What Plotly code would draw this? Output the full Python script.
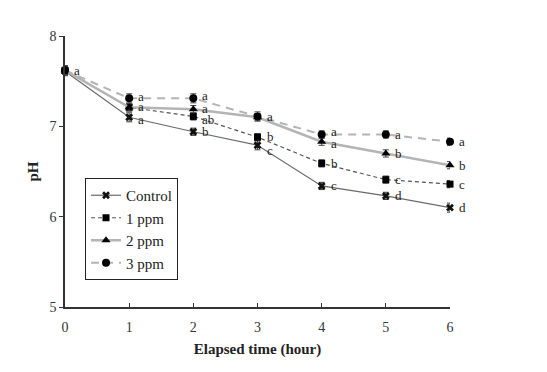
import plotly.graph_objects as go

hours = [0, 1, 2, 3, 4, 5, 6]
series_names = ["Control", "1 ppm", "2 ppm", "3 ppm"]
ph_control = [7.61, 7.10, 6.94, 6.79, 6.34, 6.23, 6.10]
ph_1ppm = [7.62, 7.21, 7.11, 6.88, 6.59, 6.41, 6.36]
ph_2ppm = [7.62, 7.21, 7.19, 7.10, 6.83, 6.70, 6.57]
ph_3ppm = [7.62, 7.31, 7.31, 7.11, 6.91, 6.91, 6.83]
err_control = [0.05, 0.05, 0.04, 0.05, 0.04, 0.04, 0.05]
err_1ppm = [0.05, 0.04, 0.04, 0.04, 0.04, 0.04, 0.04]
err_2ppm = [0.05, 0.04, 0.04, 0.04, 0.04, 0.04, 0.04]
err_3ppm = [0.05, 0.05, 0.05, 0.05, 0.04, 0.04, 0.04]
letters_control = ["", "a", "b", "c", "c", "d", "d"]
letters_1ppm = ["a", "", "ab", "b", "b", "c", "c"]
letters_2ppm = ["", "a", "a", "", "a", "b", "b"]
letters_3ppm = ["", "a", "a", "a", "a", "a", "a"]

FONT = "Liberation Serif"

styles = [
    dict(line=dict(color="#6a6a6a", width=1.2), marker=dict(symbol="x", size=7, color="#111")),
    dict(line=dict(color="#555555", width=1.2, dash="4px,3px"), marker=dict(symbol="square", size=7, color="#000")),
    dict(line=dict(color="#b4b4b4", width=2.5), marker=dict(symbol="triangle-up", size=8, color="#000")),
    dict(line=dict(color="#b4b4b4", width=2, dash="8px,6px"), marker=dict(symbol="circle", size=8, color="#000")),
]
# small vertical nudges (px) for letters that would collide: (series index, hour) -> shift
letter_nudge = {(0, 1): -2, (2, 1): 1, (3, 1): 2, (1, 2): -3, (2, 2): 1, (3, 2): 3,
                (0, 3): -5, (1, 3): 1, (3, 4): 3, (2, 4): -2}

values = [ph_control, ph_1ppm, ph_2ppm, ph_3ppm]
errs = [err_control, err_1ppm, err_2ppm, err_3ppm]
letters = [letters_control, letters_1ppm, letters_2ppm, letters_3ppm]

fig = go.Figure()
for name, ys, er, st in zip(series_names, values, errs, styles):
    fig.add_trace(go.Scatter(
        x=hours, y=ys, name=name, mode="lines+markers",
        line=st["line"], marker=st["marker"],
        error_y=dict(type="data", array=er, color="#444", thickness=1, width=3),
        cliponaxis=False,
    ))

annotations = []
for si, (ys, lt) in enumerate(zip(values, letters)):
    for xh, yv, t in zip(hours, ys, lt):
        if t:
            annotations.append(dict(
                x=xh, y=yv, text=t, showarrow=False, xanchor="left", yanchor="middle",
                xshift=7, yshift=letter_nudge.get((si, xh), 0),
                font=dict(family=FONT, size=13, color="#222"),
            ))

fig.update_layout(
    width=539, height=364,
    margin=dict(l=57, r=97, t=28, b=65),
    paper_bgcolor="white", plot_bgcolor="white",
    font=dict(family=FONT, size=13, color="#222"),
    showlegend=True,
    legend=dict(
        x=0.052, y=0.476, xanchor="left", yanchor="top",
        bordercolor="#222", borderwidth=1, bgcolor="white",
        font=dict(family=FONT, size=15, color="#222"),
        tracegroupgap=0, itemwidth=30,
    ),
    annotations=annotations,
    xaxis=dict(
        range=[0, 6], tickvals=hours, ticks="inside", ticklen=4, tickcolor="#333",
        showline=True, linecolor="#333", linewidth=1.5, showgrid=False, zeroline=False,
        ticklabelstandoff=6,
        tickfont=dict(family=FONT, size=14, color="#333"),
        title=dict(text="<b>Elapsed time (hour)</b>", font=dict(family=FONT, size=15, color="#222"), standoff=10),
    ),
    yaxis=dict(
        range=[5, 8], tickvals=[5, 6, 7, 8], ticks="outside", ticklen=4, tickcolor="#333",
        showline=True, linecolor="#333", linewidth=1.5, showgrid=False, zeroline=False,
        tickfont=dict(family=FONT, size=14, color="#333"),
        title=dict(text="<b>pH</b>", font=dict(family=FONT, size=15, color="#222"), standoff=7),
    ),
)

fig.write_html("out.html")
